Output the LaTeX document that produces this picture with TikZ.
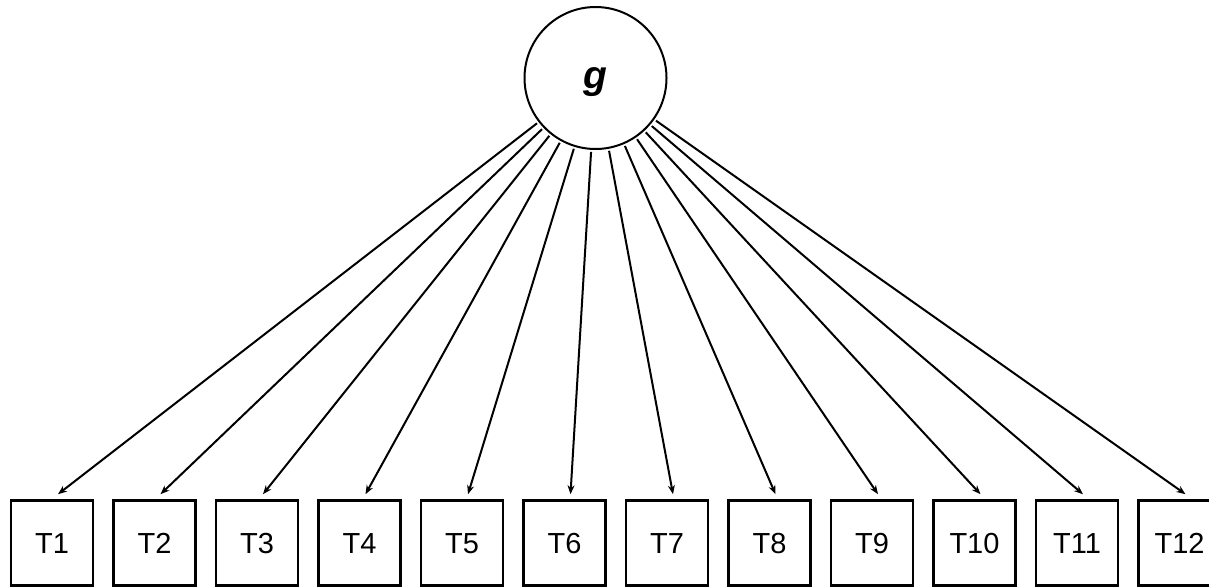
\documentclass[tikz,border=0pt]{standalone}
\usepackage{fontspec}
\setmainfont{Liberation Sans}
\usetikzlibrary{arrows.meta,calc}
\begin{document}
\begin{tikzpicture}[x=1pt,y=-1pt,
  latent/.style={circle,draw,line width=2pt,minimum size=142pt,inner sep=0pt,text depth=0pt},
  obs/.style={rectangle,draw,line width=2.6pt,minimum width=82pt,minimum height=85pt,inner sep=0pt,text height=21pt,text depth=0pt,font=\fontsize{29}{32}\selectfont},
  load/.style={line width=2pt,shorten <=2pt,-{Stealth[length=9pt,width=7pt]}}]
\useasboundingbox (0,0) rectangle (1209,587);
\begin{scope}
\clip (0,0) rectangle (1209,587);
\node[latent] (g) at (595.5,78) {\fontsize{39}{41}\selectfont\bfseries\itshape g};
\foreach \i in {1,...,12}{
  \node[obs] (T\i) at ({52+(\i-1)*102.5},543) {T\i};
  \coordinate (e\i) at ($(T\i.north)+(6,-5)$);
  \draw[load] (g) -- (e\i);
}
\end{scope}
\end{tikzpicture}
\end{document}
